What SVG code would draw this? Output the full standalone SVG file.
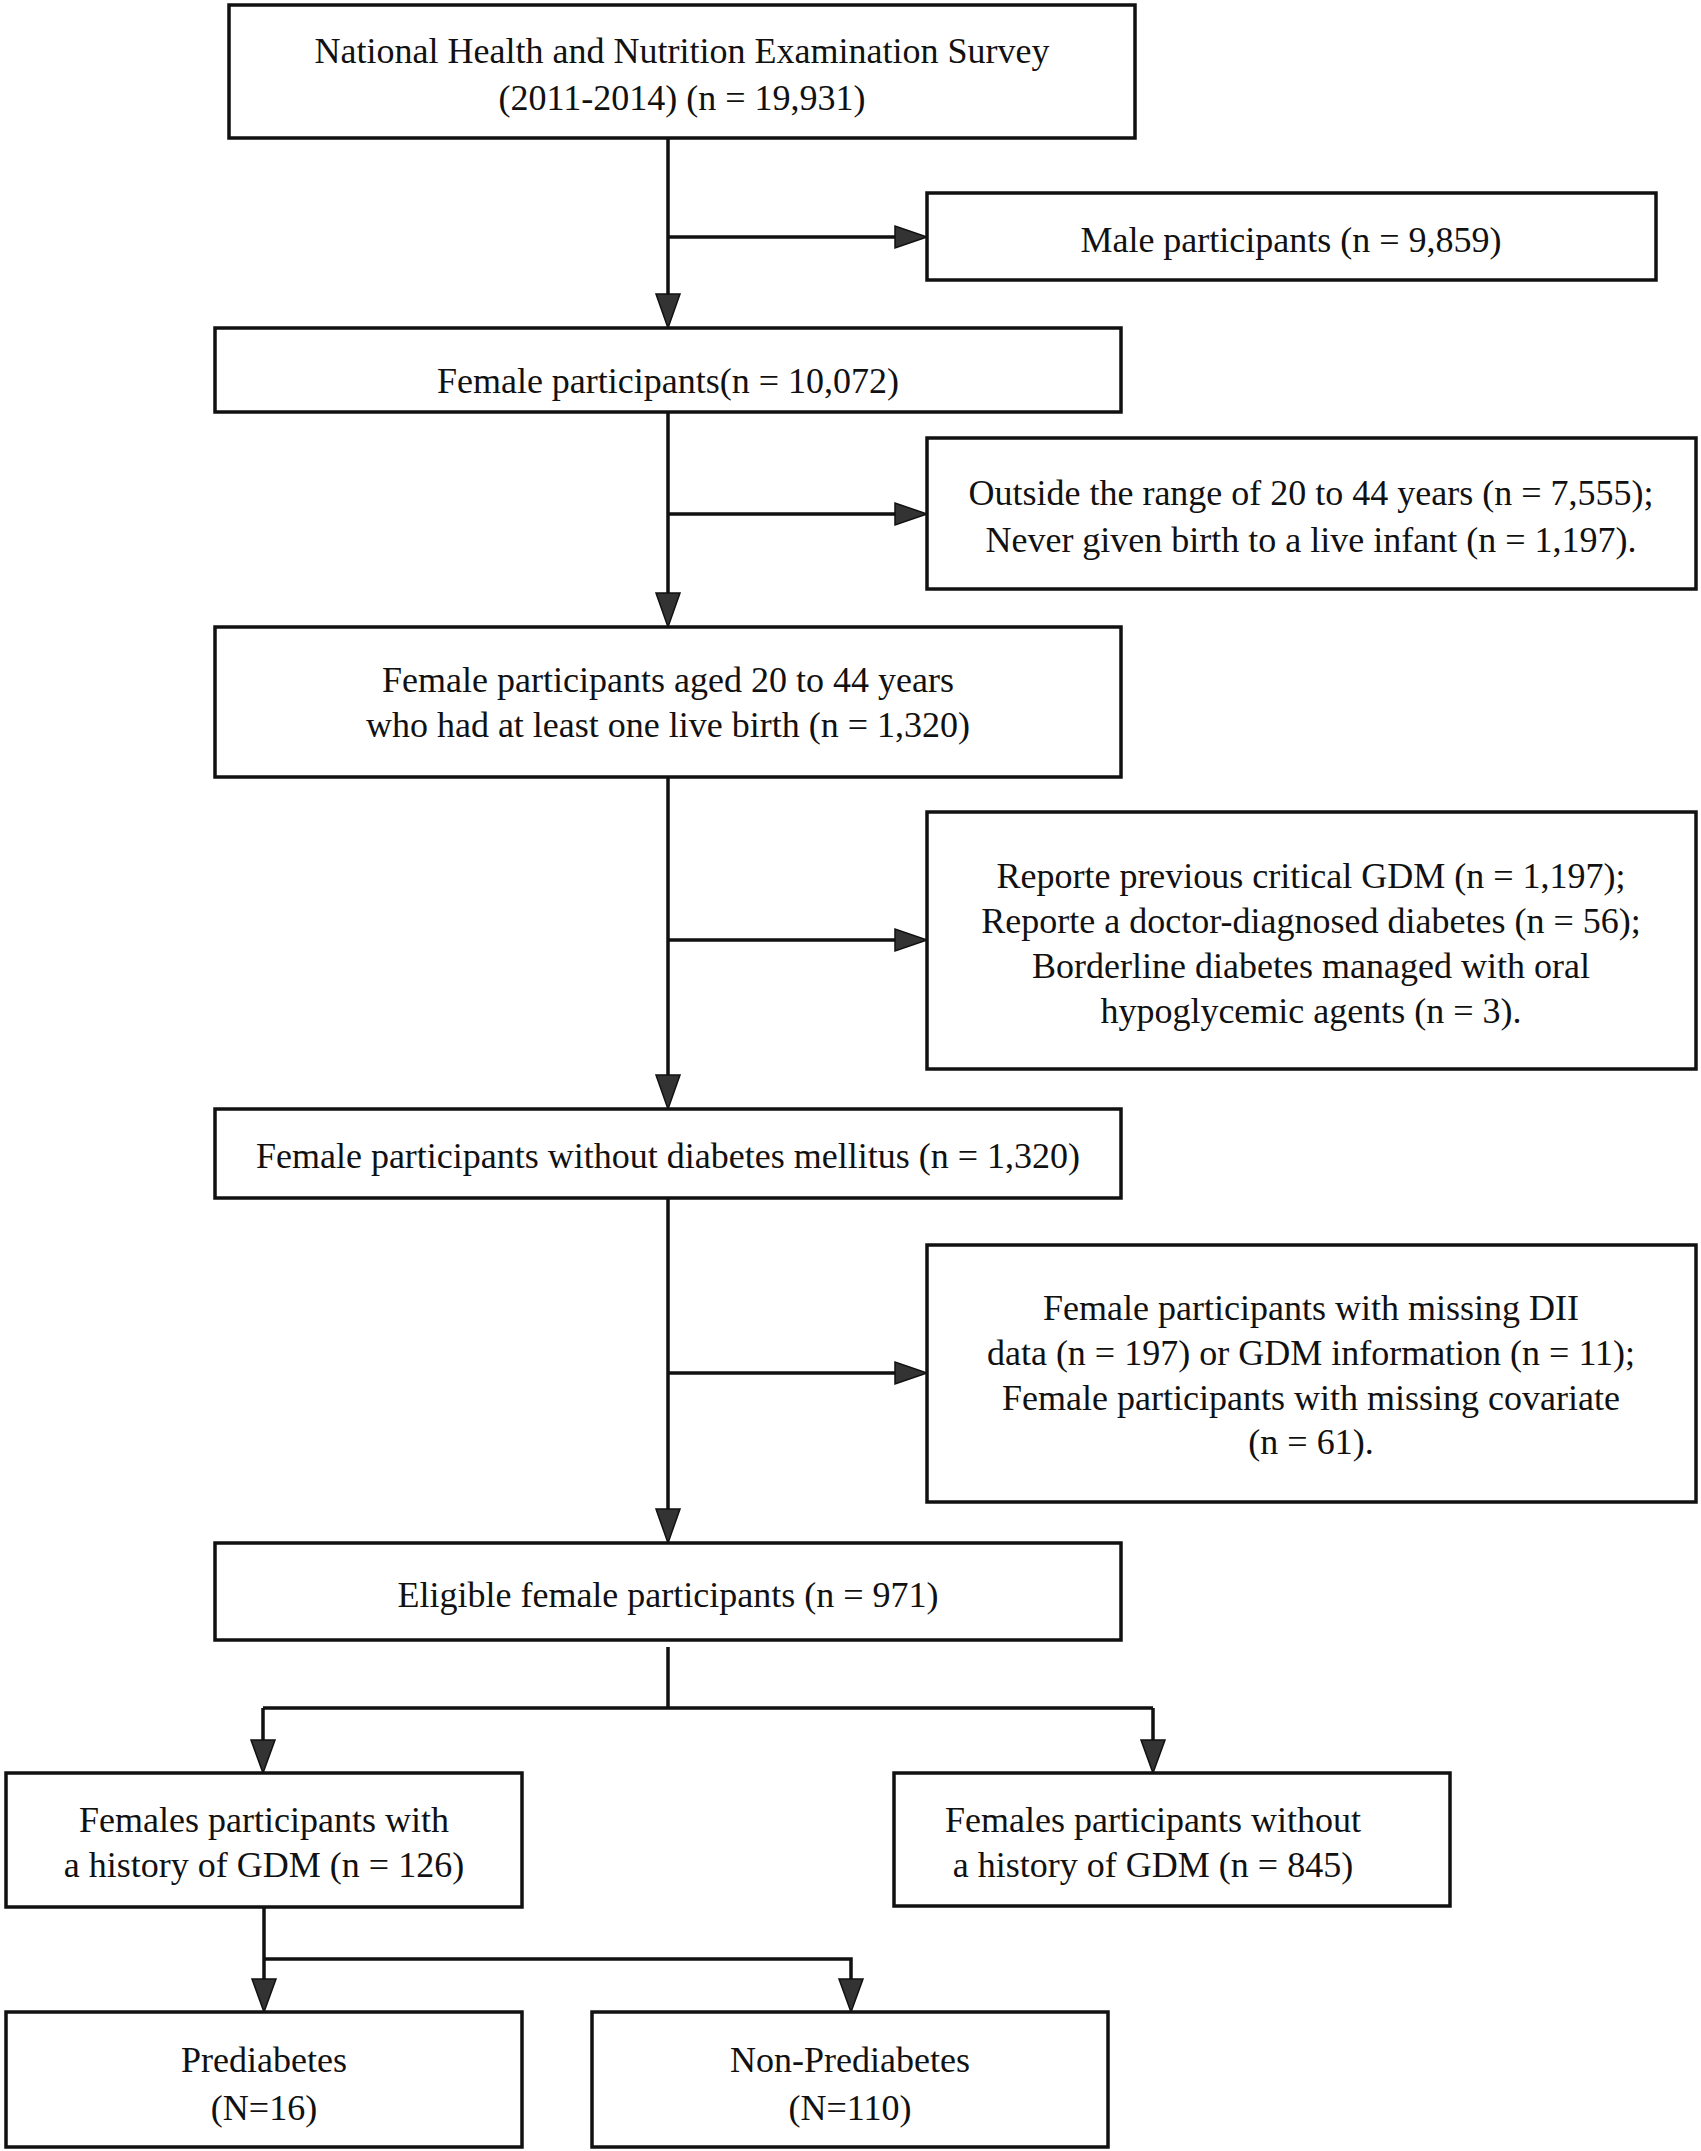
<svg xmlns="http://www.w3.org/2000/svg" width="1701" height="2151" viewBox="0 0 1701 2151">
<style>
.box{fill:#fff;stroke:#111;stroke-width:3.5}
.ln{fill:none;stroke:#111;stroke-width:3.5}
.ah{fill:#333;stroke:#111;stroke-width:1.5;stroke-linejoin:miter}
text{font-family:"Liberation Serif","Times New Roman",serif;font-size:36px;fill:#111;text-anchor:middle}
</style>
<rect width="1701" height="2151" fill="#fff"/>
<g id="connectors">
<path class="ln" d="M668 138V294M668 237H896"/>
<polygon class="ah" points="656,294 680,294 668,328"/>
<polygon class="ah" points="895,226 895,248 927,237"/>
<path class="ln" d="M668 412V593M668 514H896"/>
<polygon class="ah" points="656,593 680,593 668,627"/>
<polygon class="ah" points="895,503 895,525 927,514"/>
<path class="ln" d="M668 777V1075M668 940H896"/>
<polygon class="ah" points="656,1075 680,1075 668,1109"/>
<polygon class="ah" points="895,929 895,951 927,940"/>
<path class="ln" d="M668 1198V1509M668 1373H896"/>
<polygon class="ah" points="656,1509 680,1509 668,1543"/>
<polygon class="ah" points="895,1362 895,1384 927,1373"/>
<path class="ln" d="M668 1647V1708M263 1708H1153M263 1708V1740M1153 1708V1740"/>
<polygon class="ah" points="251,1740 275,1740 263,1773"/>
<polygon class="ah" points="1141,1740 1165,1740 1153,1773"/>
<path class="ln" d="M264 1907V1979M264 1959H851V1979"/>
<polygon class="ah" points="252,1979 276,1979 264,2012"/>
<polygon class="ah" points="839,1979 863,1979 851,2012"/>
</g>
<g id="n1"><rect class="box" x="229" y="5" width="906" height="133"/><text x="682" y="63">National Health and Nutrition Examination Survey</text><text x="682" y="110">(2011-2014) (n = 19,931)</text></g>
<g id="n2"><rect class="box" x="927" y="193" width="729" height="87"/><text x="1291" y="252">Male participants (n = 9,859)</text></g>
<g id="n3"><rect class="box" x="215" y="328" width="906" height="84"/><text x="668" y="393">Female participants(n = 10,072)</text></g>
<g id="n4"><rect class="box" x="927" y="438" width="769" height="151"/><text x="1311" y="505">Outside the range of 20 to 44 years (n = 7,555);</text><text x="1311" y="552">Never given birth to a live infant (n = 1,197).</text></g>
<g id="n5"><rect class="box" x="215" y="627" width="906" height="150"/><text x="668" y="692">Female participants aged 20 to 44 years</text><text x="668" y="737">who had at least one live birth (n = 1,320)</text></g>
<g id="n6"><rect class="box" x="927" y="812" width="769" height="257"/><text x="1311" y="888">Reporte previous critical GDM (n = 1,197);</text><text x="1311" y="933">Reporte a doctor-diagnosed diabetes (n = 56);</text><text x="1311" y="978">Borderline diabetes managed with oral</text><text x="1311" y="1023">hypoglycemic agents (n = 3).</text></g>
<g id="n7"><rect class="box" x="215" y="1109" width="906" height="89"/><text x="668" y="1168">Female participants without diabetes mellitus (n = 1,320)</text></g>
<g id="n8"><rect class="box" x="927" y="1245" width="769" height="257"/><text x="1311" y="1320">Female participants with missing DII</text><text x="1311" y="1365">data (n = 197) or GDM information (n = 11);</text><text x="1311" y="1410">Female participants with missing covariate</text><text x="1311" y="1454">(n = 61).</text></g>
<g id="n9"><rect class="box" x="215" y="1543" width="906" height="97"/><text x="668" y="1607">Eligible female participants (n = 971)</text></g>
<g id="n10"><rect class="box" x="6" y="1773" width="516" height="134"/><text x="264" y="1832">Females participants with</text><text x="264" y="1877">a history of GDM (n = 126)</text></g>
<g id="n11"><rect class="box" x="894" y="1773" width="556" height="133"/><text x="1153" y="1832">Females participants without</text><text x="1153" y="1877">a history of GDM (n = 845)</text></g>
<g id="n12"><rect class="box" x="6" y="2012" width="516" height="135"/><text x="264" y="2072">Prediabetes</text><text x="264" y="2120">(N=16)</text></g>
<g id="n13"><rect class="box" x="592" y="2012" width="516" height="135"/><text x="850" y="2072">Non-Prediabetes</text><text x="850" y="2120">(N=110)</text></g>
</svg>
